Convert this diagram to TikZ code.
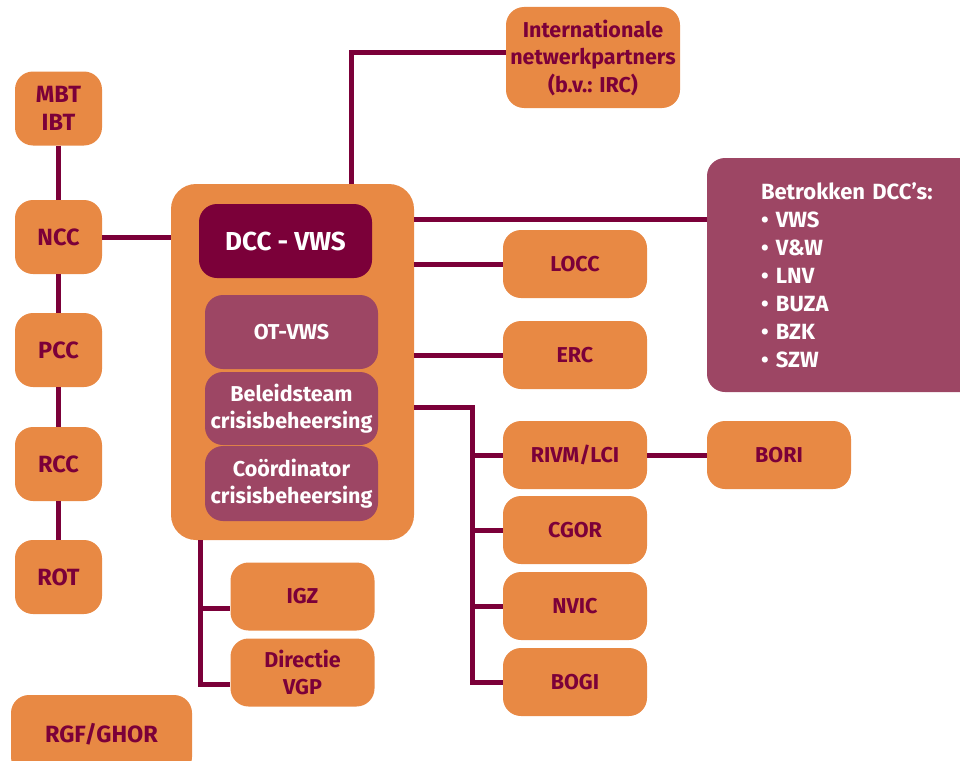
\documentclass[tikz,border=0pt]{standalone}
\usepackage{fontspec}
\setmainfont{Fira Sans}
\usetikzlibrary{positioning,calc}
\definecolor{vwsorange}{HTML}{E88944}
\definecolor{vwsmaroon}{HTML}{7B0039}
\definecolor{vwspurple}{HTML}{9D4664}

\begin{document}
\begin{tikzpicture}[
    x=1pt, y=-1pt,
    orgbox/.style={
        rectangle,
        rounded corners=18pt,
        fill=vwsorange,
        text=vwsmaroon,
        align=center,
        inner sep=2pt,
        font=\fontsize{21.5}{27.5}\selectfont\bfseries
    },
    sidebox/.style={orgbox, minimum width=87pt, minimum height=74pt,
        font=\fontsize{23.5}{28}\selectfont\bfseries},
    unitbox/.style={orgbox, minimum width=144pt, minimum height=68pt},
    teambox/.style={orgbox, fill=vwspurple, text=white,
        minimum width=173pt, minimum height=74pt},
    link/.style={draw=vwsmaroon, line width=5pt}
]
\useasboundingbox (0,0) rectangle (960,760);

% -------- Left column --------
\node[sidebox] (mbt) at (58.5,108.5) {MBT\\IBT};
\node[sidebox] (ncc) at (58.5,237) {NCC};
\node[sidebox] (pcc) at (58.5,350) {PCC};
\node[sidebox] (rcc) at (58.5,464) {RCC};
\node[sidebox] (rot) at (58.5,577) {ROT};
\node[orgbox, minimum width=181pt, minimum height=80pt,
      font=\fontsize{23.5}{28}\selectfont\bfseries] (rgf) at (101.5,735) {\raisebox{5pt}{RGF/GHOR}};

% -------- Department --------
\node[orgbox, rounded corners=25pt, minimum width=243pt, minimum height=356pt] (big) at (292.5,362) {};
\node[teambox, fill=vwsmaroon, font=\fontsize{26}{28}\selectfont\bfseries] (dcc) at (285.5,241) {DCC - VWS};
\node[teambox] (ot) at (291.5,332) {OT-VWS};
\node[teambox, minimum height=73pt] (bt) at (291.5,408.5) {Beleidsteam\\crisisbeheersing};
\node[teambox, minimum height=75pt] (coord) at (291.5,483.5) {Coördinator\\crisisbeheersing};

% -------- Partners --------
\node[orgbox, minimum width=174pt, minimum height=101pt] (intl) at (593,57.5)
    {Internationale\\netwerkpartners\\(b.v.: IRC)};
\node[orgbox, fill=vwspurple, text=white, minimum width=284pt, minimum height=234pt,
      text width=176pt, align=left, font=\fontsize{22}{28}\selectfont\bfseries] (betr) at (849,275)
    {Betrokken DCC’s:\\\textbullet\ VWS\\\textbullet\ V\&W\\\textbullet\ LNV\\\textbullet\ BUZA\\\textbullet\ BZK\\\textbullet\ SZW};
\node[unitbox] (locc) at (575,264) {LOCC};
\node[unitbox] (erc) at (575,355) {ERC};
\node[unitbox] (rivm) at (575,455) {RIVM/LCI};
\node[unitbox] (bori) at (779,455) {BORI};
\node[unitbox] (cgor) at (575,530) {CGOR};
\node[unitbox] (nvic) at (575,606) {NVIC};
\node[unitbox] (bogi) at (575,682) {BOGI};
\node[unitbox] (igz) at (302.5,596.5) {IGZ};
\node[unitbox] (vgp) at (302.5,672.5) {Directie\\VGP};

% -------- Links --------
\draw[link] (mbt) -- (ncc);
\draw[link] (ncc) -- (pcc);
\draw[link] (pcc) -- (rcc);
\draw[link] (rcc) -- (rot);
\draw[link] (ncc.east) -- (ncc.east -| big.west);

\coordinate (jt) at (351,0);
\draw[link] (big.north -| jt) |- ([yshift=5pt]intl.west);

\coordinate (jb) at ([yshift=143pt]big.east);
\draw[link] (jb) -- (jb -| betr.west);
\draw[link] (locc.west) -- (locc.west -| big.east);
\draw[link] (erc.west) -- (erc.west -| big.east);
\draw[link] (rivm) -- (bori);

% right trunk
\coordinate (jr) at ([yshift=-45pt]big.east);
\coordinate (trunk) at (472.5,0);
\draw[link] (jr) -| (trunk |- bogi.west) -- (bogi.west);
\foreach \n in {rivm,cgor,nvic}
    \draw[link] (trunk |- \n.west) -- (\n.west);

% bottom trunk
\coordinate (ltrunk) at (200,0);
\coordinate (igzin) at ([yshift=-11.5pt]igz.west);
\draw[link] (big.south -| ltrunk) |- ([yshift=-11.5pt]vgp.west);
\draw[link] (ltrunk |- igzin) -- (igzin);

\end{tikzpicture}
\end{document}
